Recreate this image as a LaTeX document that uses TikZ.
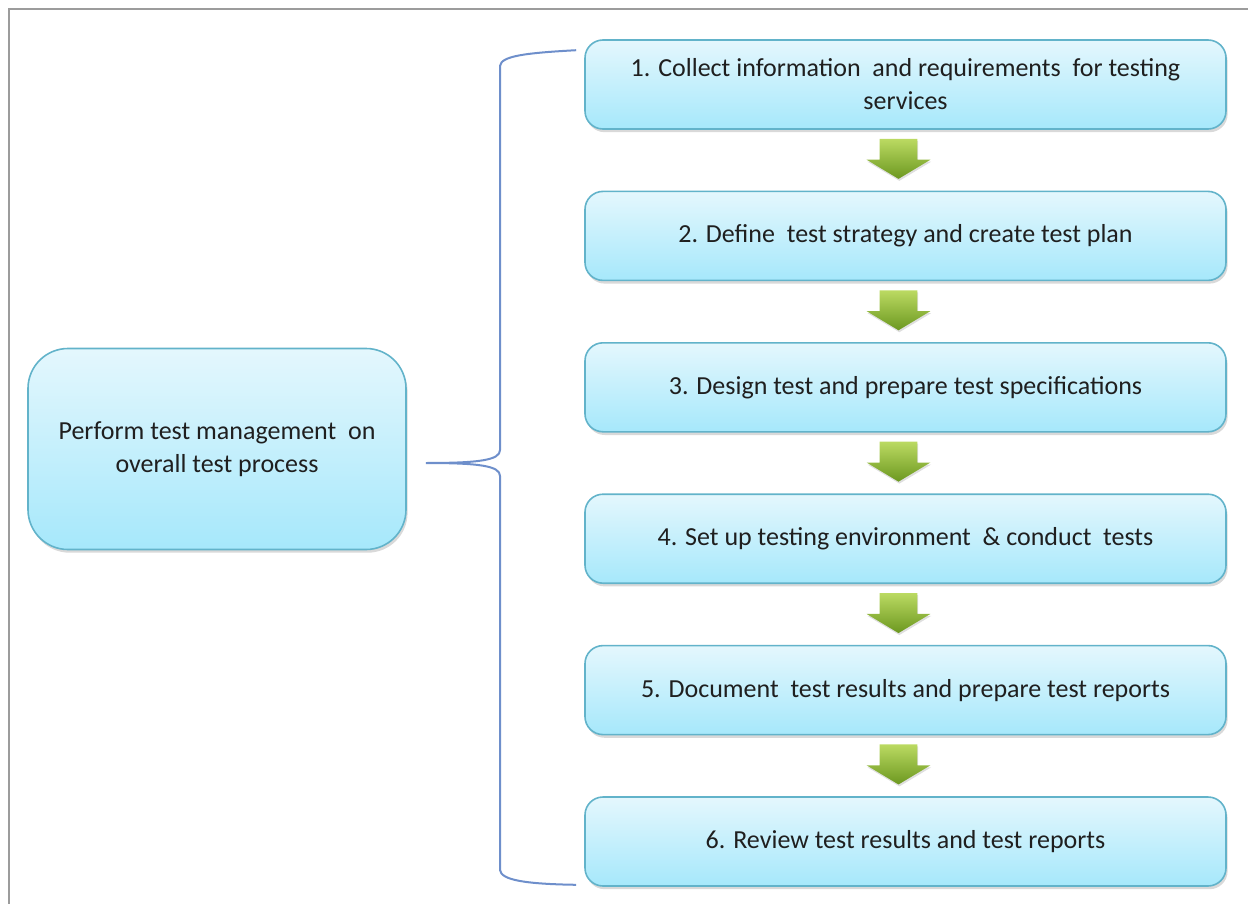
\documentclass[tikz,border=0pt]{standalone}
\usepackage{fontspec}
\setmainfont{Carlito}
\usetikzlibrary{calc,positioning,shapes.arrows,shadows}

\definecolor{boxtop}{HTML}{E4F7FD}
\definecolor{boxbottom}{HTML}{A6E8FB}
\definecolor{boxline}{HTML}{62B3CA}
\definecolor{arrowlight}{HTML}{BBDA62}
\definecolor{arrowdark}{HTML}{6C9820}
\definecolor{braceblue}{HTML}{6E8FCB}
\definecolor{framegray}{HTML}{9C9C9C}

\tikzset{
  boxtext/.style={font=\fontsize{13pt}{16.5pt}\selectfont, text=black!88,
                  align=center, inner sep=0pt},
  stepbox/.style={boxtext, draw=boxline, line width=0.8pt, rounded corners=9pt,
                  top color=boxtop, bottom color=boxbottom,
                  minimum width=320.5pt, minimum height=44.5pt,
                  drop shadow={shadow xshift=0.8pt, shadow yshift=-1.6pt,
                               opacity=0.3}},
  mainbox/.style={stepbox, rounded corners=20pt,
                  minimum width=189pt, minimum height=100.5pt},
  greenarrow/.style={single arrow, shape border rotate=270, draw=none,
                     top color=arrowlight, bottom color=arrowdark,
                     inner xsep=9.25pt, inner ysep=1pt, minimum height=20pt,
                     single arrow head extend=6.5pt,
                     single arrow tip angle=118,
                     drop shadow={shadow xshift=0.4pt, shadow yshift=-1pt,
                                  opacity=0.25}},
  brace/.style={draw=braceblue, line width=1pt}
}

\begin{document}
\begin{tikzpicture}[x=0.5pt,y=-0.5pt]

  \useasboundingbox (0,0) rectangle (1248,904);
  \draw [framegray, line width=1pt] (1260,9) -- (9,9) -- (9,920);

  % the six steps, top to bottom
  \node [stepbox] (s1) at (905.5,84.5)
        {1. Collect information~ and requirements~ for testing\\services};
  \node [stepbox, below=30.4pt of s1] (s2)
        {2. Define~ test strategy and create test plan};
  \node [stepbox, below=30.4pt of s2] (s3)
        {3. Design test and prepare test specifications};
  \node [stepbox, below=30.4pt of s3] (s4)
        {4. Set up testing environment~ \& conduct~ tests};
  \node [stepbox, below=30.4pt of s4] (s5)
        {5. Document~ test results and prepare test reports};
  \node [stepbox, below=30.4pt of s5] (s6)
        {6. Review test results and test reports};

  \node [mainbox] (perform) at (217,449)
        {Perform test management~ on\\overall test process};

  % arrows between the steps
  \node [greenarrow, xshift=-3.5pt, yshift=3.5pt] (a1) at ($(s1.south)!0.5!(s2.north)$) {};
  \node [greenarrow, xshift=-3.5pt, yshift=3.5pt] (a2) at ($(s2.south)!0.5!(s3.north)$) {};
  \node [greenarrow, xshift=-3.5pt, yshift=3.5pt] (a3) at ($(s3.south)!0.5!(s4.north)$) {};
  \node [greenarrow, xshift=-3.5pt, yshift=3.5pt] (a4) at ($(s4.south)!0.5!(s5.north)$) {};
  \node [greenarrow, xshift=-3.5pt, yshift=3.5pt] (a5) at ($(s5.south)!0.5!(s6.north)$) {};

  % brace from the main task to the steps
  \coordinate (btop) at ($(s1.north west)+(-4pt,-5.5pt)$);
  \coordinate (bbot) at ($(s6.south west)+(-4pt,1pt)$);
  \coordinate (bmid) at ($(perform.east)+(9.5pt,-7pt)$);

  \draw [brace] (btop) .. controls (525,53) and (501,56) .. (500,66)
        -- (500,450) .. controls (500,460) and (480,463) .. (bmid)
        .. controls (480,463) and (500,466) .. (500,476)
        -- (500,870) .. controls (501,880) and (525,884) .. (bbot);

\end{tikzpicture}
\end{document}
